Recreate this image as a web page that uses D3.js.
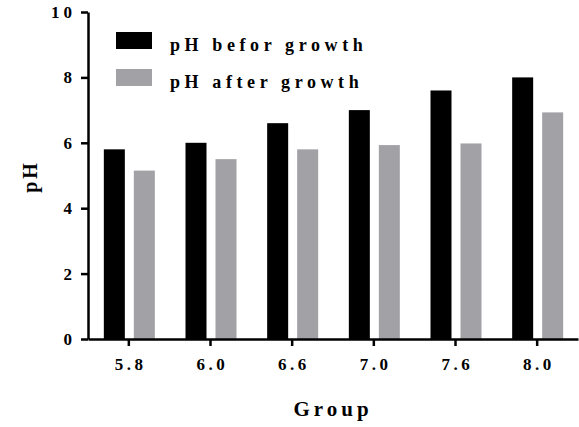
<!DOCTYPE html>
<html>
<head>
<meta charset="utf-8">
<script src="https://cdn.jsdelivr.net/npm/d3@7"></script>
<style>
  body { margin: 0; background: #fff; }
  text { font-family: "Liberation Serif", "Times New Roman", serif; font-weight: bold; fill: #000; }
</style>
</head>
<body>
<svg id="chart" width="579" height="427"></svg>
<script>
// chart data
const groups = ['5.8', '6.0', '6.6', '7.0', '7.6', '8.0'];
const phBefore = [5.8, 6.0, 6.6, 7.0, 7.6, 8.0];
const phAfter = [5.15, 5.5, 5.8, 5.93, 5.98, 6.93];
const seriesNames = ['pH befor growth', 'pH after growth'];
const seriesColours = ['#000000', '#a2a1a6'];
const yTicks = [0, 2, 4, 6, 8, 10];

const svg = d3.select('#chart');
const margin = { top: 12, right: 1, bottom: 88, left: 88 };
const width = +svg.attr('width');
const height = +svg.attr('height');
const innerWidth = width - margin.left - margin.right;
const innerHeight = height - margin.top - margin.bottom;

const x = d3.scaleBand().domain(groups).range([0, innerWidth]).padding(0);
const y = d3.scaleLinear().domain([0, 10]).range([innerHeight, 0]);

const chart = svg.append('g').attr('transform', `translate(${margin.left}, ${margin.top})`);

// bars
const barW = 21;
const offsets = [-25, 5];
[phBefore, phAfter].forEach(function(vals, s) {
  chart.append('g').selectAll('rect')
    .data(vals)
    .enter().append('rect')
    .attr('x', (d, i) => x(groups[i]) + x.bandwidth() / 2 + offsets[s])
    .attr('y', d => y(d))
    .attr('width', barW)
    .attr('height', d => innerHeight - y(d))
    .attr('fill', seriesColours[s]);
});

// axes
const yAxis = d3.axisLeft(y).tickValues(yTicks).tickSize(7).tickSizeOuter(0).tickPadding(5);
const gy = chart.append('g').call(yAxis);
gy.select('.domain').attr('stroke-width', 2.5);
gy.selectAll('.tick line').attr('stroke-width', 2.5);
gy.selectAll('.tick text').style('font-size', '17px').style('letter-spacing', '4px');

const xAxis = d3.axisBottom(x).tickSize(7).tickSizeOuter(0).tickPadding(12);
const gx = chart.append('g').attr('transform', `translate(0, ${innerHeight})`).call(xAxis);
gx.select('.domain').attr('stroke-width', 2.5);
gx.selectAll('.tick line').attr('stroke-width', 2.5);
gx.selectAll('.tick text').style('font-size', '17px').style('letter-spacing', '3.5px').attr('dx', 1.75);

// axis titles
svg.append('text')
  .attr('transform', `translate(37, 178) rotate(-90)`)
  .attr('text-anchor', 'middle')
  .attr('dx', 1.5)
  .style('font-size', '20px')
  .style('letter-spacing', '3px')
  .text('pH');

svg.append('text')
  .attr('x', 331)
  .attr('y', 416)
  .attr('text-anchor', 'middle')
  .attr('dx', 2)
  .style('font-size', '21px')
  .style('letter-spacing', '4px')
  .text('Group');

// legend
const legend = svg.append('g').attr('transform', 'translate(116, 32)');
seriesNames.forEach(function(name, i) {
  const row = legend.append('g').attr('transform', `translate(0, ${i * 37})`);
  row.append('rect').attr('width', 36).attr('height', 17).attr('fill', seriesColours[i]);
  row.append('text')
    .attr('x', 54)
    .attr('y', 19)
    .style('font-size', '18px')
    .style('letter-spacing', '4.6px')
    .text(name);
});
</script>
</body>
</html>
